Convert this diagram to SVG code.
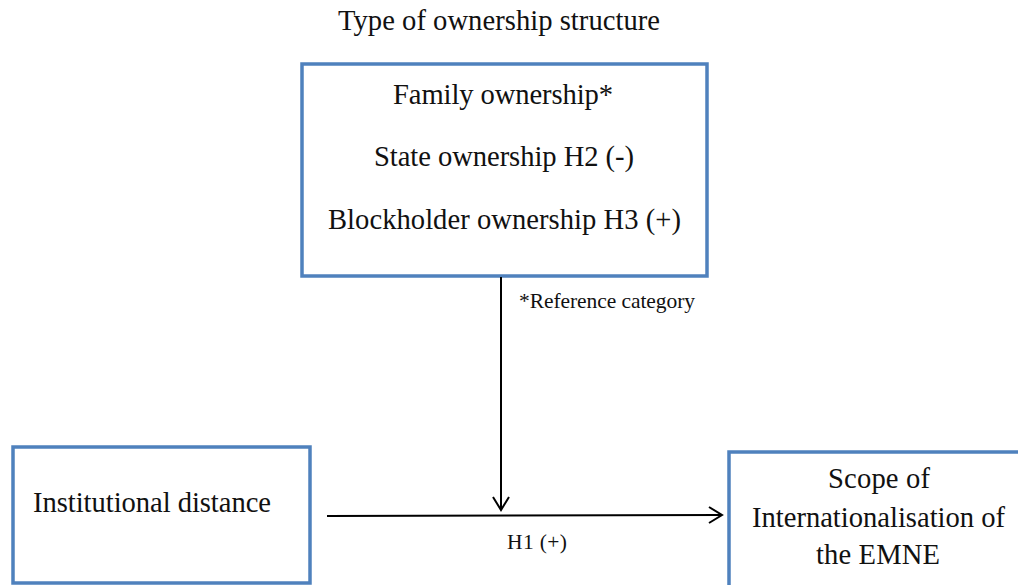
<svg xmlns="http://www.w3.org/2000/svg" width="1018" height="585" viewBox="0 0 1018 585">
<style>
.box{fill:#fff;stroke:#4f81bd;stroke-width:3.5}
.t{font-family:"Times New Roman","Liberation Serif","DejaVu Serif",serif;fill:#111;text-anchor:middle}
.big{font-size:28.6px}
.small{font-size:21.5px}
.conn{stroke:#000;stroke-width:2;fill:none}
.head{stroke:#000;stroke-width:2;fill:none}
</style>
<rect width="1018" height="585" fill="#fff"/>
<text class="t big" x="499" y="30" textLength="322">Type of ownership structure</text>
<g id="ownership">
<rect class="box" x="302" y="64" width="405" height="212"/>
<text class="t big" x="503" y="104" textLength="220">Family ownership*</text>
<text class="t big" x="504" y="166" textLength="260">State ownership H2 (-)</text>
<text class="t big" x="504.5" y="229" textLength="353">Blockholder ownership H3 (+)</text>
</g>
<g id="distance">
<rect class="box" x="13" y="447" width="297" height="136"/>
<text class="t big" x="152" y="512" textLength="238">Institutional distance</text>
</g>
<g id="scope">
<rect class="box" x="729" y="452" width="300" height="140"/>
<text class="t big" x="879" y="488" textLength="102">Scope of</text>
<text class="t big" x="878.5" y="527" textLength="253">Internationalisation of</text>
<text class="t big" x="878" y="564" textLength="124">the EMNE</text>
</g>
<g id="connectors">
<line class="conn" x1="501" y1="277" x2="501" y2="509"/>
<polyline class="head" points="493,497 501,510 509,497"/>
<line class="conn" x1="327" y1="516" x2="721" y2="515"/>
<polyline class="head" points="709,507 722,515 709,523"/>
</g>
<text class="t small" x="607" y="308" textLength="176">*Reference category</text>
<text class="t small" x="537" y="549" textLength="60">H1 (+)</text>
</svg>
